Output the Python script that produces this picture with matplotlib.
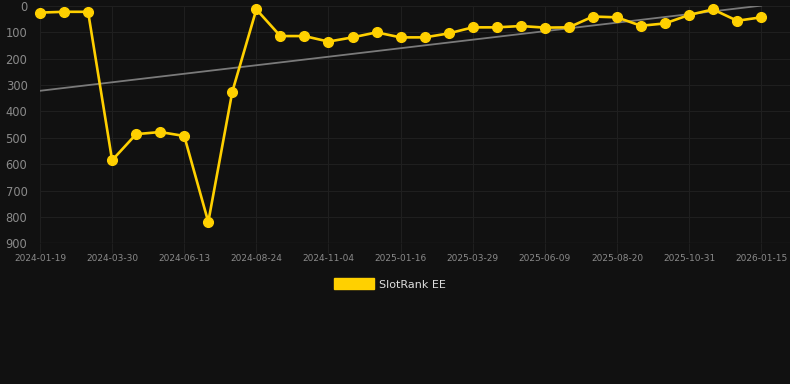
import matplotlib.pyplot as plt
import numpy as np
from matplotlib.patches import Patch

# rank values (lower = better, axis inverted)
ranks = [25, 22, 22, 585, 486, 478, 493, 819, 325, 13,
         114, 114, 135, 119, 100, 119, 119, 104, 81, 81,
         76, 82, 81, 40, 43, 75, 66, 34, 13, 56, 43]
tick_labels = ["2024-01-19", "2024-03-30", "2024-06-13", "2024-08-24", "2024-11-04",
               "2025-01-16", "2025-03-29", "2025-06-09", "2025-08-20", "2025-10-31",
               "2026-01-15"]
y_ticks = [0, 100, 200, 300, 400, 500, 600, 700, 800, 900]

bg = "#111111"
gold = "#FFD000"

x = np.arange(len(ranks))
slope, icpt = np.polyfit(x, ranks, 1)

fig = plt.figure(figsize=(7.9, 3.84), dpi=100, facecolor=bg)
ax = fig.add_axes([40 / 790, 1 - 243.3 / 384, 750 / 790, (243.3 - 6) / 384])
ax.set_facecolor(bg)

ax.plot(x, slope * x + icpt, color="#7a7a7a", lw=1.3, zorder=2)
ax.plot(x, ranks, color=gold, lw=1.9, marker="o", ms=7, clip_on=False, zorder=3)

ax.set_xlim(0, 31.2)
ax.set_ylim(900, 0)
ax.set_yticks(y_ticks)
ax.set_xticks(x[::3])
ax.set_xticklabels(tick_labels)

ax.grid(True, color="#1f1f1f", lw=0.8)
for s in ax.spines.values():
    s.set_visible(False)
ax.axhline(900, color="#2c2c2c", lw=0.9, zorder=1)
ax.tick_params(axis="y", length=0, pad=9, colors="#8a8a8a", labelsize=8.3)
ax.tick_params(axis="x", length=7, width=0.8, color="#1f1f1f", pad=1,
               colors="#8a8a8a", labelsize=6.5)

fig.legend(handles=[Patch(color=gold, label="SlotRank EE")],
           loc="center", bbox_to_anchor=(390 / 790, 1 - 284 / 384),
           frameon=False, fontsize=8, labelcolor="#dddddd",
           handlelength=3.6, handleheight=1.1, handletextpad=0.5)

fig.savefig("out.png", dpi=100, facecolor=bg)
